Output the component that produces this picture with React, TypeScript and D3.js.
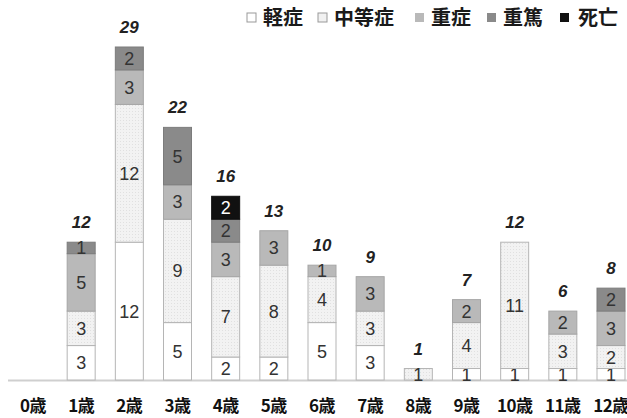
import React from "react";
import * as d3 from "d3";

const ages = ["0歳", "1歳", "2歳", "3歳", "4歳", "5歳", "6歳", "7歳", "8歳", "9歳", "10歳", "11歳", "12歳"];
const seriesNames = ["軽症", "中等症", "重症", "重篤", "死亡"];
const mild = [0, 3, 12, 5, 2, 2, 5, 3, 0, 1, 1, 1, 1];
const moderate = [0, 3, 12, 9, 7, 8, 4, 3, 1, 4, 11, 3, 2];
const severe = [0, 5, 3, 3, 3, 3, 1, 3, 0, 2, 0, 2, 3];
const critical = [0, 1, 2, 5, 2, 0, 0, 0, 0, 0, 0, 0, 2];
const death = [0, 0, 0, 0, 2, 0, 0, 0, 0, 0, 0, 0, 0];

const fills = ["#ffffff", "#f1f1f1", "#b9b9b9", "#8a8a8a", "#111111"];
const textColors = ["#333", "#333", "#333", "#333", "#fff"];

const W = 627;
const H = 418;
const baseY = 380;
const topY = 47;

export default function App() {
  const seriesValues = [mild, moderate, severe, critical, death];
  const rows = ages.map((a, i) => {
    const r: any = { age: a };
    seriesNames.forEach((s, k) => (r[s] = seriesValues[k][i]));
    return r;
  });
  const stack = d3.stack<any>().keys(seriesNames)(rows);
  const totals = ages.map((_, i) => d3.sum(seriesValues, (v) => v[i]));
  const x = d3.scalePoint<string>().domain(ages).range([33, 611]);
  const y = d3.scaleLinear().domain([0, 29]).range([baseY, topY]);
  const bw = 28;
  const font = "'Liberation Sans', Arial, sans-serif";
  const cjk = "'Noto Sans CJK JP', sans-serif";

  const legendX = [247, 318, 415, 487, 560];
  const legendTextX = [263, 334, 431, 503, 578];

  return (
    <svg width={W} height={H} style={{ position: "absolute", left: 0, top: 0, background: "#fff" }}>
      <defs>
        <pattern id="dots" width="3" height="3" patternUnits="userSpaceOnUse">
          <rect width="3" height="3" fill="#f2f2f2" />
          <rect width="1" height="1" fill="#e0e0e0" />
        </pattern>
      </defs>
      <line x1={8} x2={627} y1={baseY + 0.5} y2={baseY + 0.5} stroke="#cfcfcf" strokeWidth={2} />
      {stack.map((layer, k) =>
        layer.map((d, i) => {
          const v = d[1] - d[0];
          if (v <= 0) return null;
          const cx = x(ages[i])!;
          const y0 = y(d[0]);
          const y1 = y(d[1]);
          return (
            <g key={`${k}-${i}`}>
              <rect
                x={cx - bw / 2}
                y={y1}
                width={bw}
                height={y0 - y1}
                fill={k === 1 ? "url(#dots)" : fills[k]}
                stroke={k >= 2 ? d3.color(fills[k])!.darker(0.3).toString() : "#b5b5b5"}
                strokeWidth={1}
              />
              <text
                x={cx}
                y={(y0 + y1) / 2}
                dy="0.36em"
                textAnchor="middle"
                fontFamily={font}
                fontSize={18}
                fill={textColors[k]}
              >
                {v}
              </text>
            </g>
          );
        })
      )}
      {totals.map((t, i) =>
        t > 0 ? (
          <text
            key={`t${i}`}
            x={x(ages[i])!}
            y={y(t) - 14}
            textAnchor="middle"
            fontFamily={font}
            fontSize={17}
            fontWeight="bold"
            fontStyle="italic"
            fill="#222"
          >
            {t}
          </text>
        ) : null
      )}
      {ages.map((a) => (
        <text
          key={a}
          x={x(a)!}
          y={412}
          textAnchor="middle"
          fontFamily={cjk}
          fontSize={17}
          fontWeight="bold"
          fill="#111"
          letterSpacing={-0.5}
        >
          {a}
        </text>
      ))}
      {seriesNames.map((s, k) => (
        <g key={s}>
          <rect
            x={legendX[k]}
            y={13}
            width={9}
            height={9}
            fill={k === 1 ? "#f1f1f1" : fills[k]}
            stroke={k < 2 ? "#999" : "none"}
          />
          <text x={legendTextX[k]} y={25} fontFamily={cjk} fontSize={20} fontWeight="bold" fill="#1a1a1a">
            {s}
          </text>
        </g>
      ))}
    </svg>
  );
}
